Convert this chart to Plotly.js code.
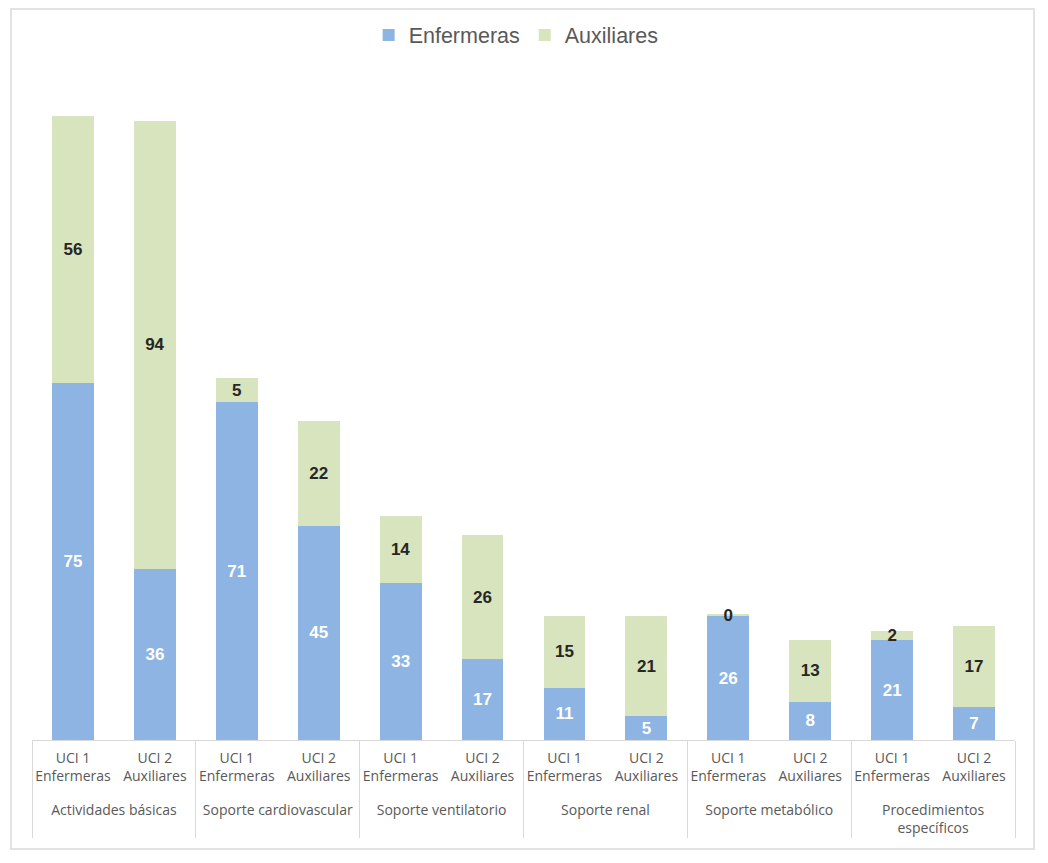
<!DOCTYPE html>
<html>
<head>
<meta charset="utf-8">
<script src="https://cdn.plot.ly/plotly-3.0.1.min.js"></script>
<style>
  html, body { margin: 0; padding: 0; background: #fff; }
  #chart { width: 1048px; height: 863px; }
</style>
</head>
<body>
<div id="chart"></div>
<script>
// categories: activity group and unit / staff type
var groups = ['Actividades básicas', 'Soporte cardiovascular', 'Soporte ventilatorio',
  'Soporte renal', 'Soporte metabólico', 'Procedimientos<br>específicos'];
var units = ['UCI 1<br>Enfermeras', 'UCI 2<br>Auxiliares'];

// values per bar (UCI 1, UCI 2 for each group)
var enfermeras = [75, 36, 71, 45, 33, 17, 11, 5, 26, 8, 21, 7];
var auxiliares = [56, 94, 5, 22, 14, 26, 15, 21, 0.4, 13, 2, 17];

var xGroups = [], xUnits = [];
groups.forEach(function (g) {
  units.forEach(function (u) {
    // leading break pushes the group row down, as in the original
    xGroups.push('<br>' + g);
    xUnits.push(u);
  });
});

var labelFont = {family: 'Liberation Sans, Arial, sans-serif', size: 17};

var trace1 = {
  x: [xGroups, xUnits],
  y: enfermeras,
  name: 'Enfermeras',
  type: 'bar',
  marker: {color: '#8EB4E3'},
  texttemplate: '<b>%{y:.0f}</b>',
  textposition: 'inside',
  insidetextanchor: 'middle',
  textangle: 0,
  textfont: Object.assign({color: '#ffffff'}, labelFont),
  hoverinfo: 'none'
};

var trace2 = {
  x: [xGroups, xUnits],
  y: auxiliares,
  name: 'Auxiliares',
  type: 'bar',
  marker: {color: '#D7E4BD'},
  texttemplate: '<b>%{y:.0f}</b>',
  textposition: 'inside',
  insidetextanchor: 'middle',
  textangle: 0,
  textfont: Object.assign({color: '#262626'}, labelFont),
  hoverinfo: 'none'
};

var layout = {
  width: 1048,
  height: 863,
  margin: {l: 32, r: 33, t: 80, b: 123},
  barmode: 'stack',
  bargap: 0.49,
  paper_bgcolor: '#ffffff',
  plot_bgcolor: '#ffffff',
  showlegend: true,
  uniformtext: {mode: 'show', minsize: 17},
  legend: {
    orientation: 'h',
    traceorder: 'normal',
    x: 0.4925, xanchor: 'center',
    y: 1.068, yanchor: 'middle',
    font: {family: 'Liberation Sans, Arial, sans-serif', size: 21.5, color: '#595959'},
    itemwidth: 30
  },
  xaxis: {
    type: 'multicategory',
    showline: true,
    linecolor: '#d9d9d9',
    linewidth: 1,
    ticks: '',
    tickangle: 0,
    ticklabelstandoff: 5,
    showdividers: true,
    dividercolor: '#d9d9d9',
    dividerwidth: 1,
    tickfont: {family: 'Open Sans, sans-serif', size: 14, color: '#595959'},
    showgrid: false,
    zeroline: false
  },
  yaxis: {
    range: [0, 138.66],
    visible: false,
    showgrid: false,
    zeroline: false
  },
  shapes: [{
    type: 'rect',
    xref: 'paper', yref: 'paper',
    x0: -21 / 983, x1: 1002 / 983,
    y0: -109 / 660, y1: 731 / 660,
    line: {color: '#d9d9d9', width: 1.5},
    fillcolor: 'rgba(0,0,0,0)'
  }]
};

Plotly.newPlot('chart', [trace1, trace2], layout, {displayModeBar: false, staticPlot: true});
</script>
</body>
</html>
